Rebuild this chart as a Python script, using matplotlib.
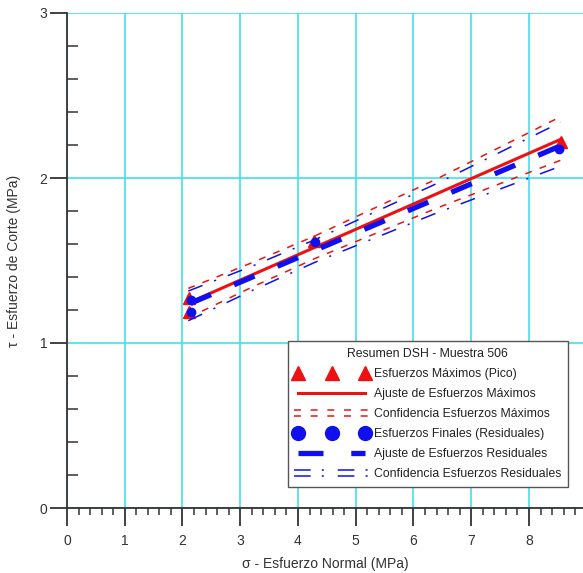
import numpy as np
import matplotlib
matplotlib.use("Agg")
import matplotlib.pyplot as plt
from matplotlib.lines import Line2D
from matplotlib.legend_handler import HandlerBase
from matplotlib.ticker import MultipleLocator

plt.rcParams['font.family'] = ['Liberation Sans', 'DejaVu Sans']
plt.rcParams['lines.scale_dashes'] = False

# Peak (maximum) shear tests
peak_sigma = [2.11, 2.11, 4.27, 8.55]
peak_tau = [1.27, 1.19, 1.62, 2.22]

# Residual (final) shear tests
res_sigma = [2.14, 2.14, 4.30, 8.52]
res_tau = [1.26, 1.19, 1.61, 2.175]

# Confidence bands
conf_x = [2.1, 3.2, 4.3, 6.4, 8.55]
peak_conf_up = [1.331, 1.486, 1.650, 1.994, 2.372]
peak_conf_lo = [1.153, 1.338, 1.513, 1.817, 2.108]
res_conf_up = [1.315, 1.465, 1.627, 1.966, 2.338]
res_conf_lo = [1.135, 1.317, 1.490, 1.788, 2.072]

x_ticks = list(range(0, 10))
y_ticks = [0, 1, 2, 3]

RED = '#ee1111'
BLUE = '#1010ee'
GRID = '#40e0e8'
DARK = '#333333'

AX_W_PX = 9.2 * 57.75   # axes width in pixels (runs past the right edge)
AX_H_PX = 495


class HandlerDouble(HandlerBase):
    """Two parallel copies of a line, as used for the confidence entries."""

    def create_artists(self, legend, orig_handle, xdescent, ydescent,
                       width, height, fontsize, trans):
        artists = []
        yc = height / 2 - ydescent
        for dy in (-2.2, 2.2):
            line = Line2D([-xdescent, width - xdescent], [yc + dy, yc + dy])
            line.update_from(orig_handle)
            line.set_transform(trans)
            artists.append(line)
        return artists


fig = plt.figure(figsize=(5.83, 5.73), dpi=100)
ax = fig.add_axes([67 / 583, 65 / 573, AX_W_PX / 583, AX_H_PX / 573])

ax.set_xlim(0, 9.2)
ax.set_ylim(0, 3)

# fits
xfit = np.linspace(min(peak_sigma), max(peak_sigma), 50)
pk = np.polyfit(peak_sigma, peak_tau, 1)
xres = np.linspace(min(res_sigma), max(res_sigma), 50)
rs = np.polyfit(res_sigma, res_tau, 1)

ax.plot(xfit, np.polyval(pk, xfit), color=RED, lw=2.2, zorder=3)
for band in (peak_conf_up, peak_conf_lo):
    ax.plot(conf_x, band, color=RED, lw=1.1, dashes=(5, 6), zorder=3)
ax.plot(peak_sigma, peak_tau, ls='none', marker='^', ms=9, color=RED, zorder=4)

ax.plot(xres, np.polyval(rs, xres), color=BLUE, lw=3.8, dashes=(16, 18), zorder=5)
for band in (res_conf_up, res_conf_lo):
    ax.plot(conf_x, band, color=BLUE, lw=1.1, dashes=(11, 9, 1.5, 9), zorder=5)
ax.plot(res_sigma, res_tau, ls='none', marker='o', ms=6, color=BLUE, zorder=6)

# axes styling
ax.set_xticks(x_ticks)
ax.set_yticks(y_ticks)
ax.xaxis.set_minor_locator(MultipleLocator(0.2))
ax.yaxis.set_minor_locator(MultipleLocator(0.2))
ax.grid(True, which='major', color=GRID, lw=1.2, zorder=0)
ax.set_axisbelow(True)
for side in ('top', 'right'):
    ax.spines[side].set_visible(False)
for side in ('left', 'bottom'):
    ax.spines[side].set_color(DARK)
    ax.spines[side].set_linewidth(1.3)
    ax.spines[side].set_zorder(2)
ax.tick_params(axis='x', which='major', direction='out', length=13, width=1.3,
               color=DARK, labelcolor=DARK, labelsize=10, pad=6)
ax.tick_params(axis='x', which='minor', direction='out', length=5, width=1.1, color=DARK)
ax.tick_params(axis='y', which='major', direction='out', length=12, width=1.3,
               color=DARK, labelcolor=DARK, labelsize=10, pad=2)
ax.tick_params(axis='y', which='minor', direction='in', length=8, width=1.1, color=DARK)

ax.set_xlabel('σ - Esfuerzo Normal (MPa)', fontsize=10, color=DARK)
ax.xaxis.set_label_coords((325 - 67) / AX_W_PX, -(557 - 508) / AX_H_PX)
ax.set_ylabel('τ - Esfuerzo de Corte (MPa)', fontsize=10, color=DARK)
ax.yaxis.set_label_coords(-(67 - 21) / AX_W_PX, 0.5)

# legend
h_peak = Line2D([], [], ls='none', marker='^', ms=10, color=RED)
h_peak_fit = Line2D([], [], color=RED, lw=2.2)
h_peak_conf = Line2D([], [], color=RED, lw=1.1, dashes=(5, 7))
h_res = Line2D([], [], ls='none', marker='o', ms=10, color=BLUE)
h_res_fit = Line2D([], [], color=BLUE, lw=3.8, dashes=(18, 20))
h_res_conf = Line2D([], [], color=BLUE, lw=1.1, dashes=(12, 8, 1.5, 10))

leg = ax.legend(
    [h_peak, h_peak_fit, h_peak_conf, h_res, h_res_fit, h_res_conf],
    ['Esfuerzos Máximos (Pico)', 'Ajuste de Esfuerzos Máximos',
     'Confidencia Esfuerzos Máximos', 'Esfuerzos Finales (Residuales)',
     'Ajuste de Esfuerzos Residuales', 'Confidencia Esfuerzos Residuales'],
    title='Resumen DSH - Muestra 506', title_fontsize=8.8, fontsize=8.8,
    handler_map={h_peak_conf: HandlerDouble(), h_res_conf: HandlerDouble()},
    numpoints=3, handlelength=6.1, handletextpad=0.4, labelspacing=0.66,
    borderpad=0.55, borderaxespad=0, fancybox=False, framealpha=1,
    edgecolor='#555555', loc='lower right', bbox_transform=fig.transFigure,
    bbox_to_anchor=(568 / 583, (573 - 487) / 573))
leg.get_frame().set_linewidth(1.0)
leg.set_zorder(10)
for t in leg.get_texts():
    t.set_color('#222222')
leg.get_title().set_color('#222222')

fig.savefig('out.png', dpi=100)
